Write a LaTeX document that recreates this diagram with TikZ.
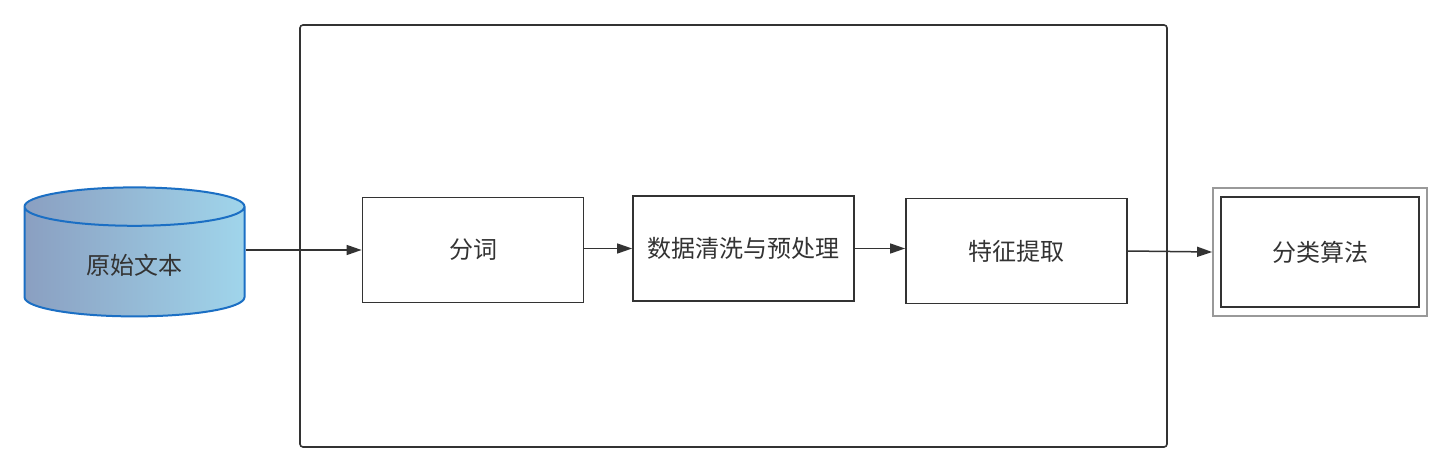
\documentclass[tikz,border=0pt]{standalone}
\usepackage{fontspec}
\setmainfont{Noto Sans CJK SC}
\usetikzlibrary{shapes.geometric,arrows.meta}
\definecolor{txtgray}{HTML}{333333}
\definecolor{boxgray}{HTML}{999999}
\definecolor{cylblue}{HTML}{1B6FC4}
\definecolor{cylleft}{HTML}{8A9FC1}
\definecolor{cylright}{HTML}{A0D5EB}

\begin{document}
\begin{tikzpicture}[x=1pt,y=-1pt,font=\fontsize{24}{28}\selectfont,text=txtgray,
    stepbox/.style={draw=txtgray, line width=1.8pt, minimum width=221pt, minimum height=105pt, inner sep=0pt},
    flow/.style={-{Triangle[length=15pt,width=10pt]}, draw=txtgray, line width=1.5pt}]

        \useasboundingbox (0,0) rectangle (1452,473);

        \node[draw=txtgray, line width=1.6pt, rounded corners=3pt, minimum width=867pt, minimum height=422pt] (frame) at (733.5,236) {};

        \node[cylinder, shape border rotate=90, draw=cylblue, line width=2pt, left color=cylleft, right color=cylright,
              minimum width=220pt, minimum height=129pt, aspect=0.4, inner sep=0pt,
              text height=30pt, text depth=5pt] (yuanshi) at (134.5,262) {原始文本};

        \node[stepbox] (fenci) at (473,250) {分词};
        \node[stepbox] (qingxi) at (743.5,248.5) {数据清洗与预处理};
        \node[stepbox] (tezheng) at (1016.5,251) {特征提取};
        \node[draw=boxgray, line width=1.8pt, minimum width=214pt, minimum height=128pt, inner sep=0pt] (fenleiout) at (1320,252) {};
        \node[stepbox, minimum width=198pt, minimum height=110pt] (fenlei) at (1320,252) {分类算法};

        \draw[flow] (yuanshi.east |- fenci.west) -- (fenci.west);
        \draw[flow] (fenci.east |- qingxi.west) -- (qingxi.west);
        \draw[flow] (qingxi.east) -- (tezheng.west |- qingxi.east);
        \draw[flow] (tezheng.east) -- (fenleiout.west);
\end{tikzpicture}
\end{document}
